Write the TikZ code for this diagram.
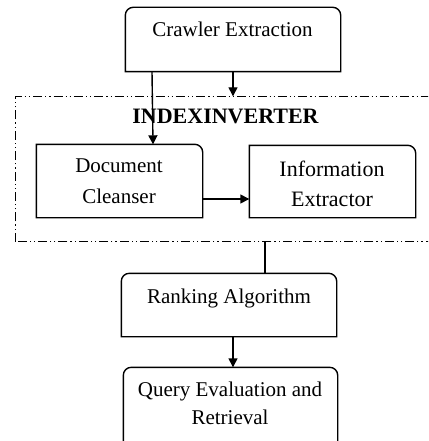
\documentclass[tikz,border=0pt]{standalone}
\usepackage{fontspec}
\setmainfont{Liberation Serif}
\usetikzlibrary{arrows.meta}
\begin{document}
\begin{tikzpicture}[x=1pt,y=-1pt,
  line width=1.4pt,
  box/.style={rectangle,draw=none,inner sep=0pt},
  lbl/.style={font=\fontsize{21}{30}\selectfont,inner sep=0pt,anchor=base,align=center},
  arr/.style={-{Triangle[length=9pt,width=9pt]}},
  dashdotdot/.style={line width=1.1pt,dash pattern=on 9pt off 3pt on 1.2pt off 3pt on 1.2pt off 3pt}]
\useasboundingbox (0,0) rectangle (428,441);
\clip (0,0) rectangle (428,441);
% box nodes (geometry only)
\node[box,minimum width=214pt,minimum height=63pt] (crawl) at (233,39.5) {};
\node[box,minimum width=165pt,minimum height=72pt] (dc) at (119.5,181) {};
\node[box,minimum width=165pt,minimum height=71pt] (ie) at (332.5,181.5) {};
\node[box,minimum width=214pt,minimum height=62pt] (rank) at (229,305) {};
\node[box,minimum width=213pt,minimum height=90pt] (query) at (230.5,413) {};
\node[box,minimum width=430pt,minimum height=144pt] (inv) at (231,169) {};
% outlines: both top corners rounded, or the top right one only
\draw (crawl.south west) [rounded corners=8pt] -- (crawl.north west) -- (crawl.north east) [sharp corners] -- (crawl.south east) -- cycle;
\draw (dc.south west) -- (dc.north west) [rounded corners=8pt] -- (dc.north east) [sharp corners] -- (dc.south east) -- cycle;
\draw (ie.south west) -- (ie.north west) [rounded corners=8pt] -- (ie.north east) [sharp corners] -- (ie.south east) -- cycle;
\draw (rank.south west) [rounded corners=8pt] -- (rank.north west) -- (rank.north east) [sharp corners] -- (rank.south east) -- cycle;
\draw (query.south west) [rounded corners=8pt] -- (query.north west) -- (query.north east) [sharp corners] -- (query.south east) -- cycle;
\draw[dashdotdot] (inv.south west) rectangle (inv.north east);
% texts
\node[lbl] (tcrawl) at (232.5,37) {Crawler Extraction};
\node[lbl,font=\fontsize{22}{30}\selectfont\bfseries] (tinv) at (225.5,124) {INDEXINVERTER};
\node[lbl] (tdc1) at (119,172) {Document};
\node[lbl] (tdc2) at (119,203) {Cleanser};
\node[lbl,font=\fontsize{22}{30}\selectfont] (tie1) at (332,176) {Information};
\node[lbl,font=\fontsize{22}{30}\selectfont] (tie2) at (332,206) {Extractor};
\node[lbl] (trank) at (229,303) {Ranking Algorithm};
\node[lbl] (tq1) at (230,396) {Query Evaluation and};
\node[lbl] (tq2) at (230,424) {Retrieval};
% connectors
\draw[arr] (crawl.south west -| 152,0) -- (dc.north west -| 153,0);
\draw[arr] (crawl.south west -| 233,0) -- (inv.north west -| 233,0);
\draw[arr] (dc.east |- 0,199) -- (ie.west |- 0,199);
\draw (inv.south west -| 265,0) -- (rank.north west -| 265,0);
\draw[arr] (rank.south west -| 233,0) -- (query.north west -| 233,0);
\end{tikzpicture}
\end{document}
